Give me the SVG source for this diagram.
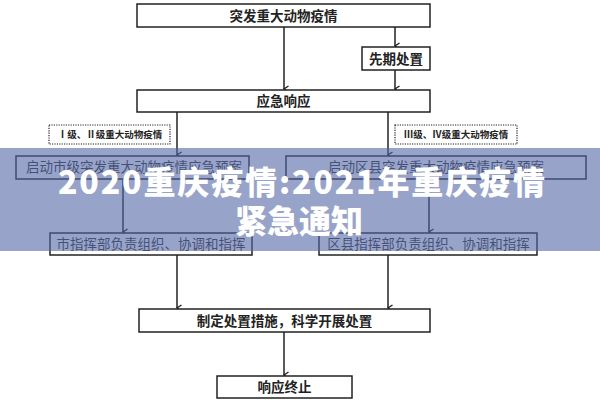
<svg xmlns="http://www.w3.org/2000/svg" width="600" height="400" viewBox="0 0 600 400">
<defs>
<marker id="arr" markerWidth="8" markerHeight="8" refX="4" refY="6" orient="auto-start-reverse" markerUnits="userSpaceOnUse" viewBox="0 0 8 8">
<polyline points="1,1.5 4,6 7,1.5" fill="none" stroke="#222" stroke-width="1.4"/>
</marker>
<style>
.box{fill:#fff;stroke:#222;stroke-width:1.5}
.dbox{fill:#fff;stroke:#222;stroke-width:1.2;stroke-dasharray:1.2 1.2}
.b{font-family:"Noto Sans CJK SC","Noto Sans",sans-serif;font-size:13.5px;font-weight:bold;fill:#222;text-anchor:middle}
.r{font-family:"Noto Sans CJK SC","Noto Sans",sans-serif;font-size:13.5px;fill:#333;text-anchor:middle}
.s{font-family:"Noto Sans CJK SC","Noto Sans",sans-serif;font-size:9.5px;font-weight:bold;fill:#222;text-anchor:middle}
.ln{stroke:#222;stroke-width:1.5;fill:none}
.bn{font-family:"Noto Sans CJK SC","Noto Sans",sans-serif;font-size:32px;font-weight:900;fill:#fff;text-anchor:middle}
</style>
</defs>
<rect width="600" height="400" fill="#fff"/>
<g id="connectors">
<line class="ln" x1="284" y1="27" x2="284" y2="89" marker-end="url(#arr)"/>
<line class="ln" x1="395" y1="27" x2="395" y2="46" marker-end="url(#arr)"/>
<line class="ln" x1="395" y1="70" x2="395" y2="89" marker-end="url(#arr)"/>
<line class="ln" x1="177" y1="112" x2="177" y2="155" marker-end="url(#arr)"/>
<line class="ln" x1="388" y1="112" x2="388" y2="155" marker-end="url(#arr)"/>
<line class="ln" x1="123" y1="179" x2="123" y2="232" marker-end="url(#arr)"/>
<line class="ln" x1="429" y1="179" x2="429" y2="232" marker-end="url(#arr)"/>
<line class="ln" x1="177" y1="255" x2="177" y2="308" marker-end="url(#arr)"/>
<line class="ln" x1="388" y1="255" x2="388" y2="308" marker-end="url(#arr)"/>
<line class="ln" x1="284" y1="332" x2="284" y2="375" marker-end="url(#arr)"/>
</g>
<g id="n-outbreak"><rect class="box" x="137" y="4" width="293" height="23"/><text class="b" x="283.5" y="20.5">突发重大动物疫情</text></g>
<g id="n-initial"><rect class="box" x="362" y="47" width="68" height="23"/><text class="b" x="396" y="63.5">先期处置</text></g>
<g id="n-response"><rect class="box" x="137" y="90" width="293" height="22"/><text class="b" x="283.5" y="106">应急响应</text></g>
<g id="n-level12"><rect class="dbox" x="49" y="125" width="121" height="19"/><text class="s" x="110" y="138">Ⅰ级、Ⅱ级重大动物疫情</text></g>
<g id="n-level34"><rect class="dbox" x="395" y="125" width="122" height="19"/><text class="s" x="456" y="138">Ⅲ级、Ⅳ级重大动物疫情</text></g>
<g id="n-city-plan"><rect class="box" x="16" y="156" width="233" height="23"/><text class="r" x="134" y="172">启动市级突发重大动物疫情应急预案</text></g>
<g id="n-county-plan"><rect class="box" x="286" y="156" width="300" height="23"/><text class="r" x="436" y="172">启动区县突发重大动物疫情应急预案</text></g>
<g id="n-city-hq"><rect class="box" x="50" y="233" width="202" height="22"/><text class="r" x="151" y="249">市指挥部负责组织、协调和指挥</text></g>
<g id="n-county-hq"><rect class="box" x="319" y="233" width="218" height="22"/><text class="r" x="428.5" y="249">区县指挥部负责组织、协调和指挥</text></g>
<g id="n-measures"><rect class="box" x="139" y="309" width="291" height="23"/><text class="b" x="284.5" y="325.5">制定处置措施，科学开展处置</text></g>
<g id="n-end"><rect class="box" x="217" y="376" width="135" height="22"/><text class="b" x="284.5" y="392">响应终止</text></g>
<g id="banner">
<rect x="0" y="148" width="600" height="103" fill="#5366a5" fill-opacity="0.6"/>
<text class="bn" x="301.5" y="194" textLength="487" lengthAdjust="spacing">2020重庆疫情:2021年重庆疫情</text>
<text class="bn" x="299" y="233">紧急通知</text>
</g>
</svg>
